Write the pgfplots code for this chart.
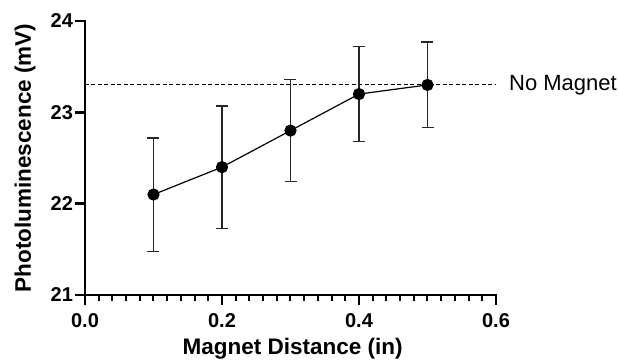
\documentclass[border=0pt]{standalone}
\usepackage{pgfplots}
\pgfplotsset{compat=1.18}
\usepackage{fontspec}
\setmainfont{Liberation Sans}
\newcommand\tickfont{\fontsize{20}{24}\selectfont\bfseries}
\begin{document}
\begin{tikzpicture}
\begin{axis}[
  at={(0,0)}, anchor=south west,
  scale only axis, width=411pt, height=274pt,
  xmin=0, xmax=0.6, ymin=21, ymax=24,
  axis lines=left, axis line style={-, line width=2.6pt, line cap=rect},
  clip=false,
  xtick={0,0.2,0.4,0.6}, ytick={21,22,23,24},
  xticklabels={0.0,0.2,0.4,0.6},
  yticklabels={21,22,23,24},
  minor x tick num=9,
  tick align=outside,
  major tick length=10pt, minor tick length=6pt,
  every tick/.style={black, line width=2.4pt},
  minor tick style={line width=2pt},
  tick label style={font=\tickfont},
  xticklabel shift=5.5pt, yticklabel shift=-1.5pt,
  xlabel={Magnet Distance (in)},
  ylabel={Photoluminescence (mV)},
  label style={font=\fontsize{22.5}{26}\selectfont\bfseries},
  xlabel style={at={(axis description cs:0.505,-0.197)}, anchor=center},
  ylabel style={at={(axis description cs:-0.146,0.5)}, anchor=center},
]
\addplot[black, dash pattern=on 4pt off 2.5pt, line width=1pt] coordinates {(0,23.3) (0.6,23.3)};
\addplot[black, line width=1.2pt, mark=*, mark size=5.5pt,
  error bars/.cd, y dir=both, y explicit,
  error bar style={line width=1.2pt, color=black!85},
  error mark options={rotate=90, mark size=6pt, line width=1.2pt, color=black!85}]
  coordinates {
  (0.1,22.10) +- (0,0.62)
  (0.2,22.40) +- (0,0.67)
  (0.3,22.80) +- (0,0.56)
  (0.4,23.20) +- (0,0.52)
  (0.5,23.30) +- (0,0.47)
};
\node[anchor=west, font=\fontsize{22}{26}\selectfont, inner sep=0pt] at (axis cs:0.6,23.3) [xshift=13pt] {No Magnet};
\end{axis}
\path (-85pt,-69pt) rectangle (534pt,295pt);
\end{tikzpicture}
\end{document}
